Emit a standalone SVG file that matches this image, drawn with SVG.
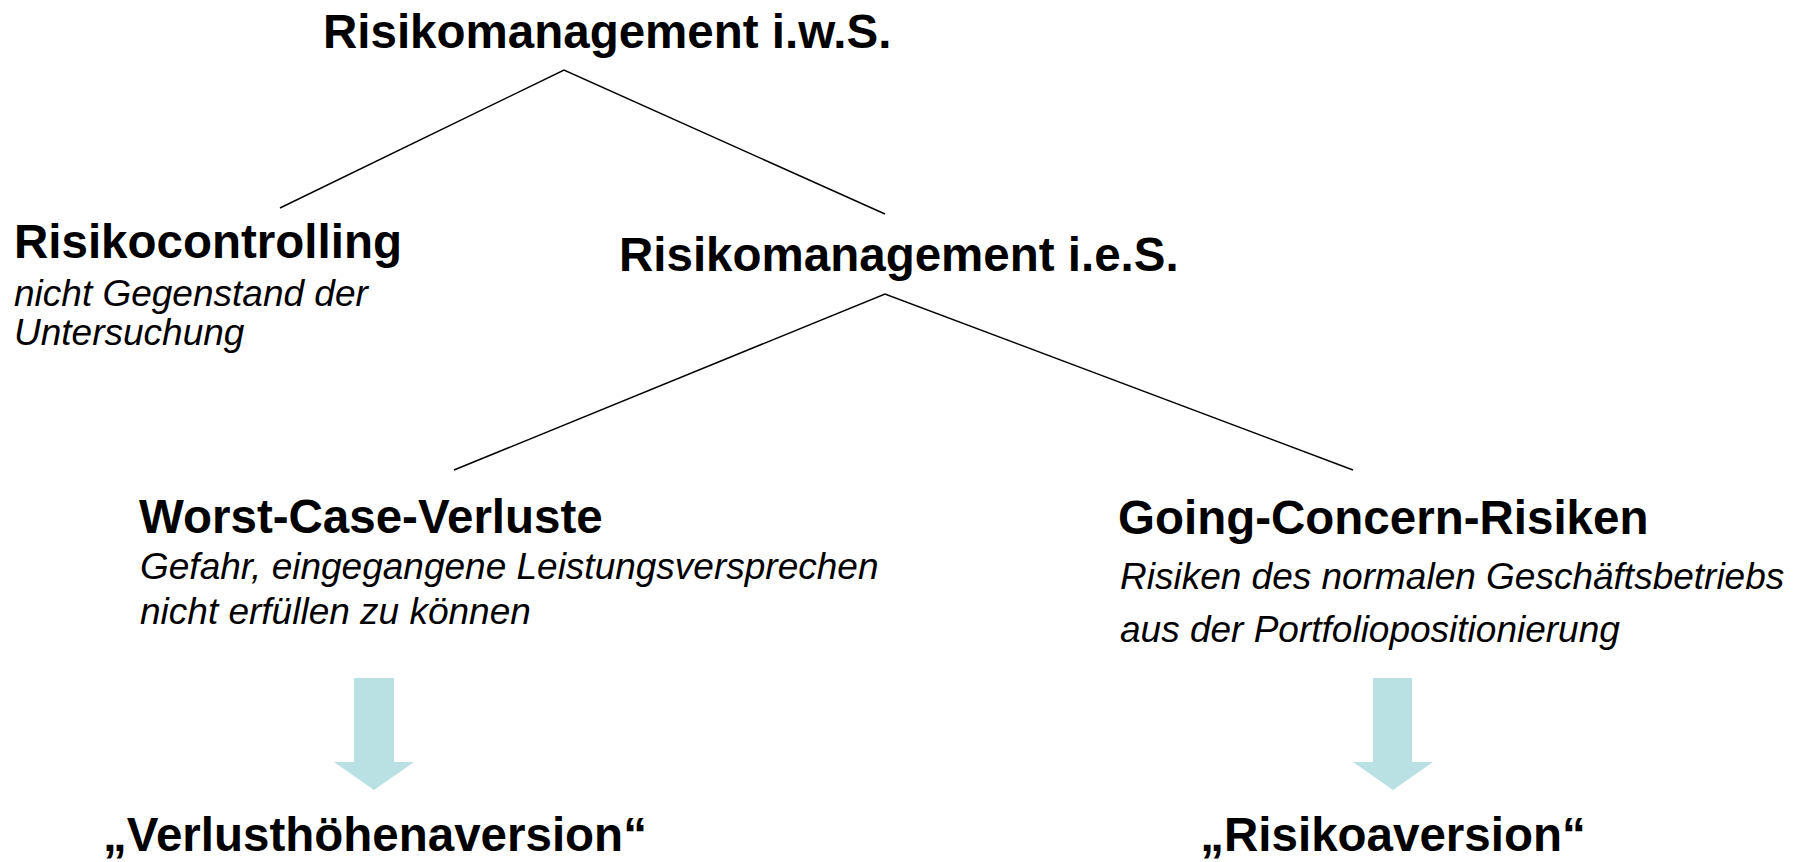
<svg xmlns="http://www.w3.org/2000/svg" width="1806" height="862" viewBox="0 0 1806 862">
<style>
text { font-family: "Liberation Sans", Arial, sans-serif; fill: #000; }
.h { font-size: 47.5px; font-weight: bold; }
.d { font-size: 37px; font-style: italic; }
.ln { stroke: #000; stroke-width: 1.5; fill: none; }
.arr { fill: #B9E0E3; stroke: none; }
</style>
<rect width="1806" height="862" fill="#fff"/>
<g id="connectors">
  <polyline class="ln" points="280,208 564,70 885,214"/>
  <polyline class="ln" points="454,470 885,294 1353,470"/>
  <polygon class="arr" points="354,678 394,678 394,762 414,762 374,790 334,762 354,762"/>
  <polygon class="arr" points="1373,678 1412,678 1412,762 1433,762 1393,790 1353,762 1373,762"/>
</g>
<g id="node-rm-iws">
  <text class="h" x="323" y="48">Risikomanagement i.w.S.</text>
</g>
<g id="node-risikocontrolling">
  <text class="h" x="14" y="258">Risikocontrolling</text>
  <text class="d" x="14" y="306">nicht Gegenstand der</text>
  <text class="d" x="14" y="345">Untersuchung</text>
</g>
<g id="node-rm-ies">
  <text class="h" x="619" y="271">Risikomanagement i.e.S.</text>
</g>
<g id="node-worst-case">
  <text class="h" x="139" y="533">Worst-Case-Verluste</text>
  <text class="d" x="140" y="579">Gefahr, eingegangene Leistungsversprechen</text>
  <text class="d" x="140" y="624">nicht erfüllen zu können</text>
</g>
<g id="node-going-concern">
  <text class="h" x="1118" y="534">Going-Concern-Risiken</text>
  <text class="d" x="1120" y="589">Risiken des normalen Geschäftsbetriebs</text>
  <text class="d" x="1120" y="642">aus der Portfoliopositionierung</text>
</g>
<g id="node-verlusthoehenaversion">
  <text class="h" x="375" y="851" text-anchor="middle">„Verlusthöhenaversion“</text>
</g>
<g id="node-risikoaversion">
  <text class="h" x="1393" y="851" text-anchor="middle">„Risikoaversion“</text>
</g>
</svg>
